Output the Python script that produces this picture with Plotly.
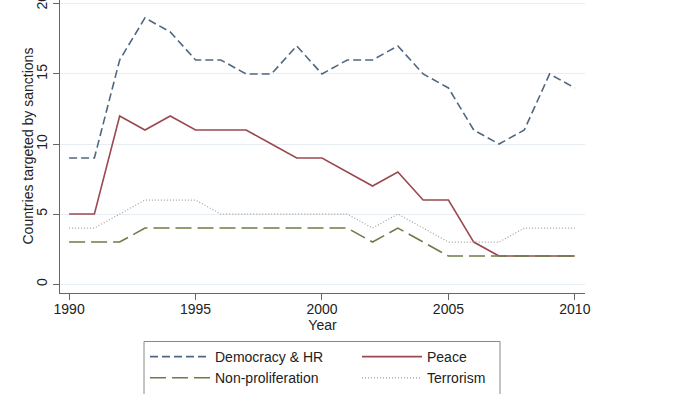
import plotly.graph_objects as go

years = list(range(1990, 2011))
democracy_hr = [9, 9, 16, 19, 18, 16, 16, 15, 15, 17, 15, 16, 16, 17, 15, 14, 11, 10, 11, 15, 14]
peace = [5, 5, 12, 11, 12, 11, 11, 11, 10, 9, 9, 8, 7, 8, 6, 6, 3, 2, 2, 2, 2]
non_proliferation = [3, 3, 3, 4, 4, 4, 4, 4, 4, 4, 4, 4, 3, 4, 3, 2, 2, 2, 2, 2, 2]
terrorism = [4, 4, 5, 6, 6, 6, 5, 5, 5, 5, 5, 5, 4, 5, 4, 3, 3, 3, 4, 4, 4]

x_ticks = [1990, 1995, 2000, 2005, 2010]
y_ticks = [0, 5, 10, 15, 20]

FONT = "Liberation Sans, Arial, Helvetica, sans-serif"

fig = go.Figure()
fig.add_trace(go.Scatter(x=years, y=democracy_hr, mode="lines", name="Democracy & HR",
                         legend="legend",
                         line=dict(color="#4f6882", width=1.6, dash="8px,4px")))
fig.add_trace(go.Scatter(x=years, y=peace, mode="lines", name="Peace",
                         legend="legend2",
                         line=dict(color="#9a4950", width=1.6)))
fig.add_trace(go.Scatter(x=years, y=non_proliferation, mode="lines", name="Non-proliferation",
                         legend="legend",
                         line=dict(color="#6b7d45", width=1.6, dash="16px,6px")))
fig.add_trace(go.Scatter(x=years, y=terrorism, mode="lines", name="Terrorism",
                         legend="legend2",
                         line=dict(color="#a0a0a0", width=1.2, dash="1px,2px")))

PW = 525.0
PH = 296.0
def px_x(p):
    return (p - 60) / PW
def px_y(p):
    return (296 - p) / PH

leg_common = dict(orientation="v", xanchor="left", yanchor="top",
                  borderwidth=0, bgcolor="rgba(0,0,0,0)", itemwidth=60,
                  font=dict(size=14, color="#222"), tracegroupgap=0)

fig.update_layout(
    width=700, height=394,
    margin=dict(l=60, r=115, t=0, b=98),
    paper_bgcolor="white", plot_bgcolor="white",
    font=dict(family=FONT, size=14, color="#222"),
    xaxis=dict(range=[1989.64, 2010.4], tickvals=x_ticks, showgrid=False,
               showline=True, linecolor="#666", linewidth=1,
               ticks="outside", ticklen=6, tickcolor="#666",
               ticklabelstandoff=-3,
               title=dict(text="Year", font=dict(size=14), standoff=1),
               zeroline=False, automargin=False),
    yaxis=dict(range=[-0.636, 20.28], tickvals=y_ticks, showgrid=True,
               gridcolor="#e6eef4", gridwidth=1,
               showline=True, linecolor="#666", linewidth=1,
               ticks="outside", ticklen=6, tickcolor="#666", tickangle=-90,
               ticklabeloverflow="allow",
               zeroline=False, automargin=False),
    annotations=[dict(text="Countries targeted by sanctions", textangle=-90,
                      xref="paper", yref="paper", x=px_x(27), y=px_y(148),
                      xanchor="center", yanchor="middle", showarrow=False,
                      font=dict(size=14, color="#222"))],
    legend=dict(x=px_x(145), y=px_y(345), **leg_common),
    legend2=dict(x=px_x(357), y=px_y(345), **leg_common),
    showlegend=True,
    shapes=[dict(type="rect", xref="paper", yref="paper",
                 x0=px_x(144), x1=px_x(500), y0=px_y(345), y1=px_y(420),
                 line=dict(color="#888", width=1), fillcolor="rgba(0,0,0,0)",
                 layer="below")],
)

fig.write_html("out.html",
               config={"displayModeBar": False},
               post_script="document.body.style.margin='0';document.body.style.overflow='hidden';")
